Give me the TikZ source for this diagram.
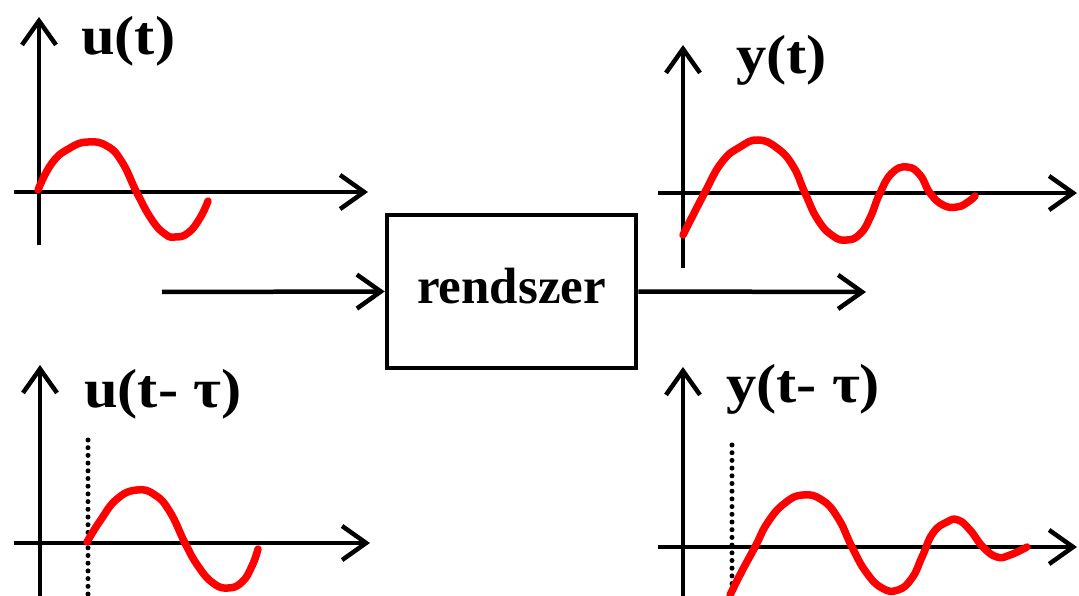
\documentclass[tikz,border=0pt]{standalone}
\usepackage{fontspec}
\setmainfont{Liberation Serif}
\usetikzlibrary{arrows.meta}
\begin{document}
\begin{tikzpicture}[x=1pt,y=-1pt,
  ax/.style={line width=4.5pt,-{Straight Barb[length=24pt,width=34pt,line width=4.5pt]}},
  sig/.style={draw=red,line width=7.5pt,line cap=round,line join=round},
  dotline/.style={line width=5pt,line cap=round,dash pattern=on 0pt off 7.7pt},
  lbl/.style={inner sep=0pt,anchor=base west,font=\fontsize{55}{66}\selectfont\bfseries},
  sysbox/.style={draw,line width=4.5pt,minimum width=249pt,minimum height=153pt,inner sep=0pt,
    text height=34pt,text depth=10pt,font=\fontsize{51}{60}\selectfont\bfseries}]
\useasboundingbox (0,0) rectangle (1079,596);
\clip (0,0) rectangle (1079,596);

% ---------- top-left: u(t)
\draw[ax] (39,245) -- (39,17);
\draw[ax] (14,192) -- (368,192);
\node[lbl] (ut) at (81,55) {\scalebox{1.1}[1]{u(t)}};
\draw[sig] plot[smooth,tension=0.8] coordinates {(38,190) (52,163) (70,148) (88,142) (107,146) (122,162) (137,193) (152,220) (165,234) (175,237) (188,233) (200,218) (208,201)};

% ---------- top-right: y(t)
\draw[ax] (683,268) -- (683,45);
\draw[ax] (658,193) -- (1077,193);
\node[lbl] (yt) at (736,74) {\scalebox{1.1}[1]{y(t)}};
\draw[sig] plot[smooth,tension=0.8] coordinates {(683,235) (705,192) (722,162) (740,147) (758,140) (777,148) (793,166) (805,193) (818,220) (833,236) (847,240) (860,234) (870,218) (880,193) (892,173) (907,167) (920,175) (930,193) (943,205) (957,207) (968,202) (975,196)};

% ---------- bottom-left: u(t-tau)
\draw[ax] (40,600) -- (40,365);
\draw[ax] (14,543) -- (370,543);
\draw[dotline] (88,440) -- (88,600);
\node[lbl] (utt) at (84,407) {\scalebox{1.1}[1]{u(t- τ)}};
\draw[sig] plot[smooth,tension=0.8] coordinates {(87,542) (100,521) (117,499) (137,490) (155,495) (170,512) (185,543) (198,566) (213,583) (228,588) (242,582) (252,566) (258,549)};

% ---------- bottom-right: y(t-tau)
\draw[ax] (683,600) -- (683,367);
\draw[ax] (658,547) -- (1077,547);
\draw[dotline] (732,445) -- (732,600);
\node[lbl] (ytt) at (726,402) {\scalebox{1.1}[1]{y(t- τ)}};
\draw[sig] plot[smooth,tension=0.8] coordinates {(730,595) (743,569) (755,547) (768,522) (785,503) (803,495) (822,500) (838,518) (852,547) (866,572) (882,588) (898,590) (912,578) (922,557) (933,533) (947,522) (958,520) (970,530) (983,547) (997,557) (1010,555) (1027,547)};

% ---------- system block
\node[sysbox] (sys) at (511.5,291.5) {rendszer};
\coordinate (in) at (162,292);
\coordinate (out) at (866,292);
\draw[ax] (in) -- (sys.west);
\draw[ax] (sys.east) -- (out);
\end{tikzpicture}
\end{document}
